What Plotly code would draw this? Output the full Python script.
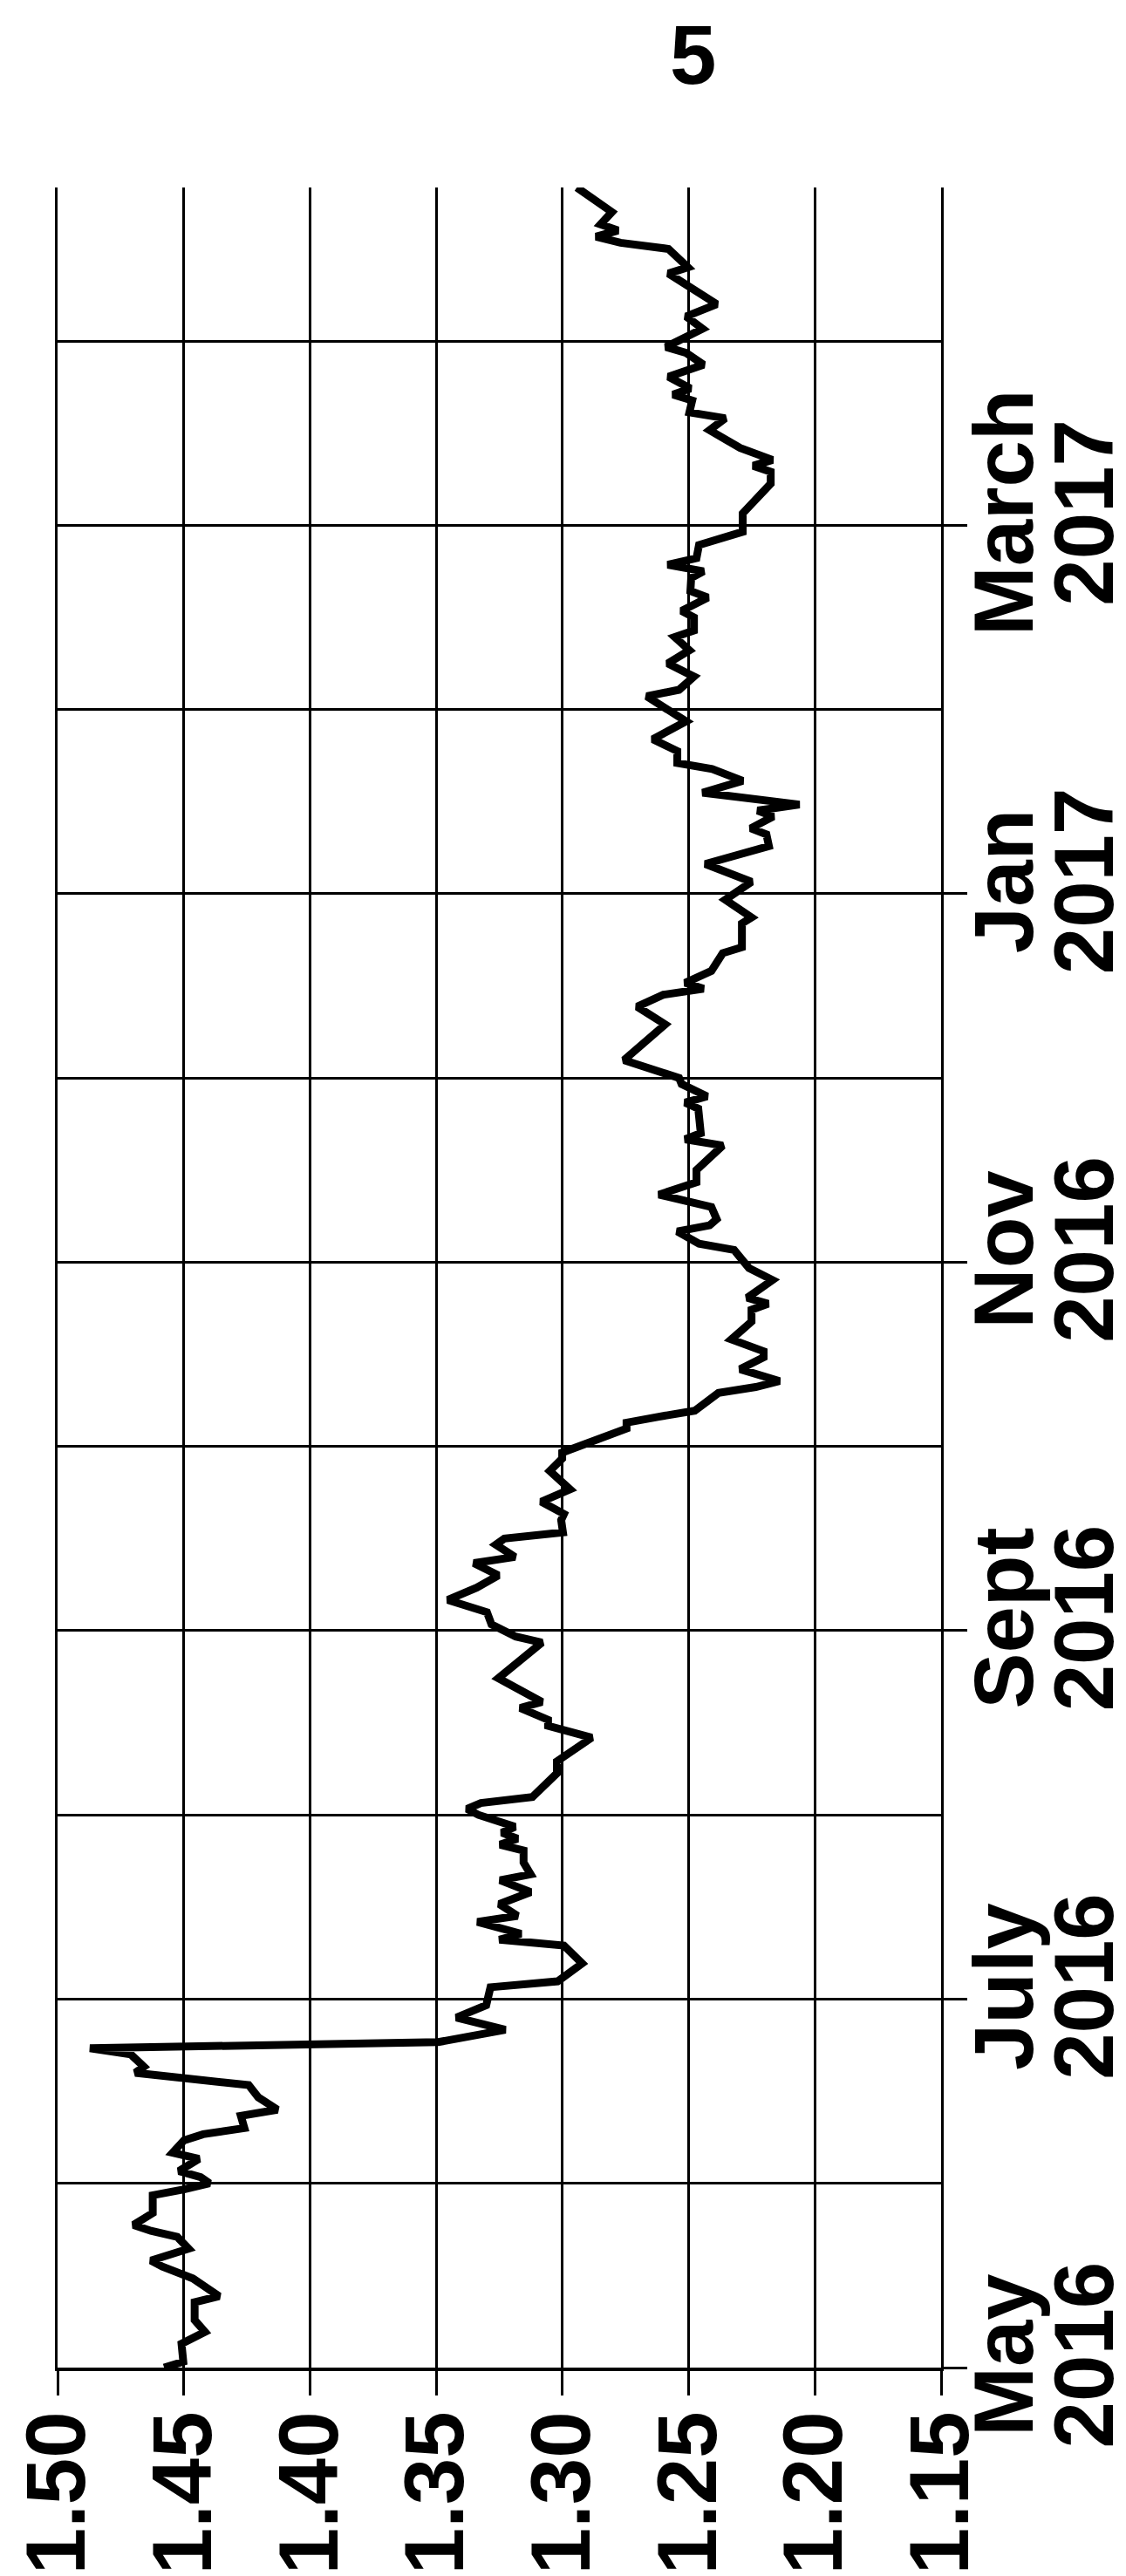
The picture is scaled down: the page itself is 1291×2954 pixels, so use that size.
import calendar
import plotly.graph_objects as go

# ---- data ----
dates = [
    "2016-05-01", "2016-05-02", "2016-05-05", "2016-05-07", "2016-05-09", "2016-05-12", "2016-05-13",
    "2016-05-16", "2016-05-18", "2016-05-19", "2016-05-21", "2016-05-23", "2016-05-24", "2016-05-25",
    "2016-05-27", "2016-05-30", "2016-05-31",
    "2016-06-01", "2016-06-02", "2016-06-03", "2016-06-05", "2016-06-06", "2016-06-08", "2016-06-09",
    "2016-06-10", "2016-06-12", "2016-06-13", "2016-06-15", "2016-06-17", "2016-06-19", "2016-06-20",
    "2016-06-22", "2016-06-23", "2016-06-24", "2016-06-26", "2016-06-27", "2016-06-28", "2016-06-30",
    "2016-07-03", "2016-07-04", "2016-07-07", "2016-07-10", "2016-07-11", "2016-07-12", "2016-07-14",
    "2016-07-15", "2016-07-17", "2016-07-19", "2016-07-21", "2016-07-22", "2016-07-24", "2016-07-26",
    "2016-07-27", "2016-07-28", "2016-07-29", "2016-07-30", "2016-07-31",
    "2016-08-01", "2016-08-02", "2016-08-03", "2016-08-04", "2016-08-08", "2016-08-10", "2016-08-14",
    "2016-08-16", "2016-08-17", "2016-08-19", "2016-08-20", "2016-08-24", "2016-08-30", "2016-08-31",
    "2016-09-02", "2016-09-04", "2016-09-06", "2016-09-08", "2016-09-10", "2016-09-12", "2016-09-13",
    "2016-09-15", "2016-09-16", "2016-09-17", "2016-09-19", "2016-09-20", "2016-09-22", "2016-09-24",
    "2016-09-27", "2016-09-29", "2016-09-30",
    "2016-10-04", "2016-10-05", "2016-10-06", "2016-10-07", "2016-10-10", "2016-10-11", "2016-10-12",
    "2016-10-14", "2016-10-16", "2016-10-17", "2016-10-19", "2016-10-22", "2016-10-24", "2016-10-25",
    "2016-10-26", "2016-10-29", "2016-10-31",
    "2016-11-03", "2016-11-04", "2016-11-06", "2016-11-07", "2016-11-08", "2016-11-10", "2016-11-12",
    "2016-11-14", "2016-11-16", "2016-11-20", "2016-11-21", "2016-11-22", "2016-11-26", "2016-11-27",
    "2016-11-28", "2016-11-30",
    "2016-12-01", "2016-12-04", "2016-12-10", "2016-12-13", "2016-12-15", "2016-12-16", "2016-12-17",
    "2016-12-19", "2016-12-22", "2016-12-23", "2016-12-27", "2016-12-28", "2016-12-31",
    "2017-01-03", "2017-01-06", "2017-01-09", "2017-01-11", "2017-01-12", "2017-01-14", "2017-01-15",
    "2017-01-16", "2017-01-18", "2017-01-20", "2017-01-22", "2017-01-23", "2017-01-25", "2017-01-27",
    "2017-01-30",
    "2017-02-03", "2017-02-04", "2017-02-06", "2017-02-08", "2017-02-10", "2017-02-12", "2017-02-13",
    "2017-02-15", "2017-02-16", "2017-02-18", "2017-02-19", "2017-02-21", "2017-02-22", "2017-02-23",
    "2017-02-24", "2017-02-26", "2017-02-28",
    "2017-03-03", "2017-03-08", "2017-03-10", "2017-03-11", "2017-03-12", "2017-03-14", "2017-03-17",
    "2017-03-19", "2017-03-20", "2017-03-22", "2017-03-23", "2017-03-24", "2017-03-26", "2017-03-28",
    "2017-03-30", "2017-03-31",
    "2017-04-03", "2017-04-05", "2017-04-07", "2017-04-10", "2017-04-12", "2017-04-13", "2017-04-16",
    "2017-04-17", "2017-04-18", "2017-04-19", "2017-04-20", "2017-04-22", "2017-04-26",
]

rates = [
    1.4578, 1.4502, 1.4509, 1.4416, 1.4457, 1.4457, 1.4360,
    1.4464, 1.4585, 1.4630, 1.4481, 1.4526, 1.4630, 1.4699,
    1.4623, 1.4623, 1.4499,
    1.4398, 1.4433, 1.4519, 1.4440, 1.4544, 1.4499, 1.4423,
    1.4260, 1.4274, 1.4129, 1.4205, 1.4243, 1.4692, 1.4658,
    1.4710, 1.4872, 1.3492, 1.3226, 1.3323, 1.3420, 1.3302,
    1.3285, 1.3019, 1.2922, 1.2994, 1.3250, 1.3164, 1.3337,
    1.3178, 1.3250, 1.3126, 1.3247, 1.3126, 1.3154, 1.3154,
    1.3247, 1.3178, 1.3240, 1.3188, 1.3264,
    1.3333, 1.3378, 1.3323, 1.3119, 1.3022, 1.3022, 1.2884,
    1.3057, 1.3057, 1.3167, 1.3081, 1.3254, 1.3081, 1.3185,
    1.3281, 1.3299, 1.3454, 1.3340, 1.3254, 1.3351, 1.3188,
    1.3264, 1.3230, 1.2998, 1.3005, 1.2994, 1.3084, 1.2970,
    1.3050, 1.3001, 1.3001,
    1.2746, 1.2746, 1.2618, 1.2476, 1.2382, 1.2234, 1.2140,
    1.2296, 1.2203, 1.2203, 1.2331, 1.2251, 1.2251, 1.2185,
    1.2268, 1.2168, 1.2261,
    1.2320, 1.2459, 1.2545, 1.2417, 1.2389, 1.2410, 1.2618,
    1.2469, 1.2469, 1.2365, 1.2514, 1.2452, 1.2462, 1.2514,
    1.2427, 1.2528,
    1.2538, 1.2756, 1.2593, 1.2704, 1.2600, 1.2441, 1.2514,
    1.2410, 1.2365, 1.2289, 1.2289, 1.2251, 1.2355,
    1.2251, 1.2434, 1.2182, 1.2192, 1.2254, 1.2165, 1.2227,
    1.2061, 1.2445, 1.2286, 1.2407, 1.2545, 1.2545, 1.2642,
    1.2510,
    1.2666, 1.2538, 1.2479, 1.2583, 1.2497, 1.2555, 1.2479,
    1.2479, 1.2528, 1.2424, 1.2493, 1.2490, 1.2441, 1.2583,
    1.2469, 1.2459, 1.2286,
    1.2286, 1.2175, 1.2175, 1.2244, 1.2168, 1.2296, 1.2417,
    1.2355, 1.2497, 1.2486, 1.2562, 1.2493, 1.2580, 1.2441,
    1.2510, 1.2590,
    1.2445, 1.2510, 1.2389, 1.2503, 1.2580, 1.2503, 1.2580,
    1.2770, 1.2867, 1.2780, 1.2849, 1.2804, 1.2943,
]

value_ticks = [1.50, 1.45, 1.40, 1.35, 1.30, 1.25, 1.20, 1.15]
label_dates = ["2016-05-01", "2016-07-01", "2016-09-01", "2016-11-01", "2017-01-01", "2017-03-01"]
label_months = ["May", "July", "Sept", "Nov", "Jan", "March"]
label_years = ["2016", "2016", "2016", "2016", "2017", "2017"]
grid_dates = ["2016-05-01", "2016-06-01", "2016-07-01", "2016-08-01", "2016-09-01", "2016-10-01",
              "2016-11-01", "2016-12-01", "2017-01-01", "2017-02-01", "2017-03-01", "2017-04-01"]
title_text = "5"


def month_pos(s):
    y, m, d = map(int, s.split("-"))
    return (y - 2016) * 12 + (m - 5) + (d - 1) / calendar.monthrange(y, m)[1]


pos = [month_pos(s) for s in dates]
label_pos = [month_pos(s) for s in label_dates]
grid_pos = [month_pos(s) for s in grid_dates]
yrange = [pos[0], pos[-1]]

FONT = "Liberation Sans, Arial, Helvetica, sans-serif"
tickfont = dict(family=FONT, size=96, color="black", weight="bold")

W, H = 1291, 2954
ML, MR, MT, MB = 58, 220, 207, 247

fig = go.Figure()
fig.add_trace(go.Scatter(x=rates, y=pos, mode="lines",
                         line=dict(color="black", width=9), showlegend=False))
fig.add_trace(go.Scatter(x=[None], y=[None], yaxis="y2", showlegend=False, hoverinfo="skip"))

fig.update_layout(
    width=W, height=H,
    margin=dict(l=ML, r=MR, t=MT, b=MB, pad=0, autoexpand=False),
    paper_bgcolor="white", plot_bgcolor="white",
    showlegend=False,
    xaxis=dict(
        range=[1.50, 1.15], tickmode="array", tickvals=value_ticks, tickformat=".2f",
        tickangle=-90, ticks="outside", ticklen=28, tickwidth=3, tickcolor="black",
        showgrid=True, gridcolor="black", gridwidth=3,
        showline=True, linecolor="black", linewidth=4, zeroline=False,
        tickfont=tickfont, automargin=False, ticklabelstandoff=-20,
    ),
    yaxis=dict(
        range=yrange, side="right", tickmode="array", tickvals=label_pos, ticktext=label_months,
        tickangle=-90, ticks="outside", ticklen=27, tickwidth=3, tickcolor="black",
        showgrid=True, gridcolor="black", gridwidth=3,
        minor=dict(tickmode="array", tickvals=grid_pos, showgrid=True, gridcolor="black",
                   gridwidth=3, ticks=""),
        showline=True, mirror=True, linecolor="black", linewidth=3, zeroline=False,
        tickfont=tickfont, ticklabelstandoff=-40, automargin=False,
    ),
    yaxis2=dict(
        range=yrange, side="right", overlaying="y", anchor="x",
        tickmode="array", tickvals=label_pos, ticktext=label_years,
        tickangle=-90, ticks="", showgrid=False, showline=False, zeroline=False,
        tickfont=tickfont, ticklabelstandoff=100, automargin=False,
    ),
    annotations=[dict(text=title_text, xref="paper", yref="paper",
                      x=(786 - ML) / (W - ML - MR), y=1 + MT / (H - MT - MB),
                      xanchor="center", yanchor="top", showarrow=False, borderpad=0,
                      font=dict(family=FONT, size=96, color="black", weight="bold"))],
)

fig.write_html("out.html")
